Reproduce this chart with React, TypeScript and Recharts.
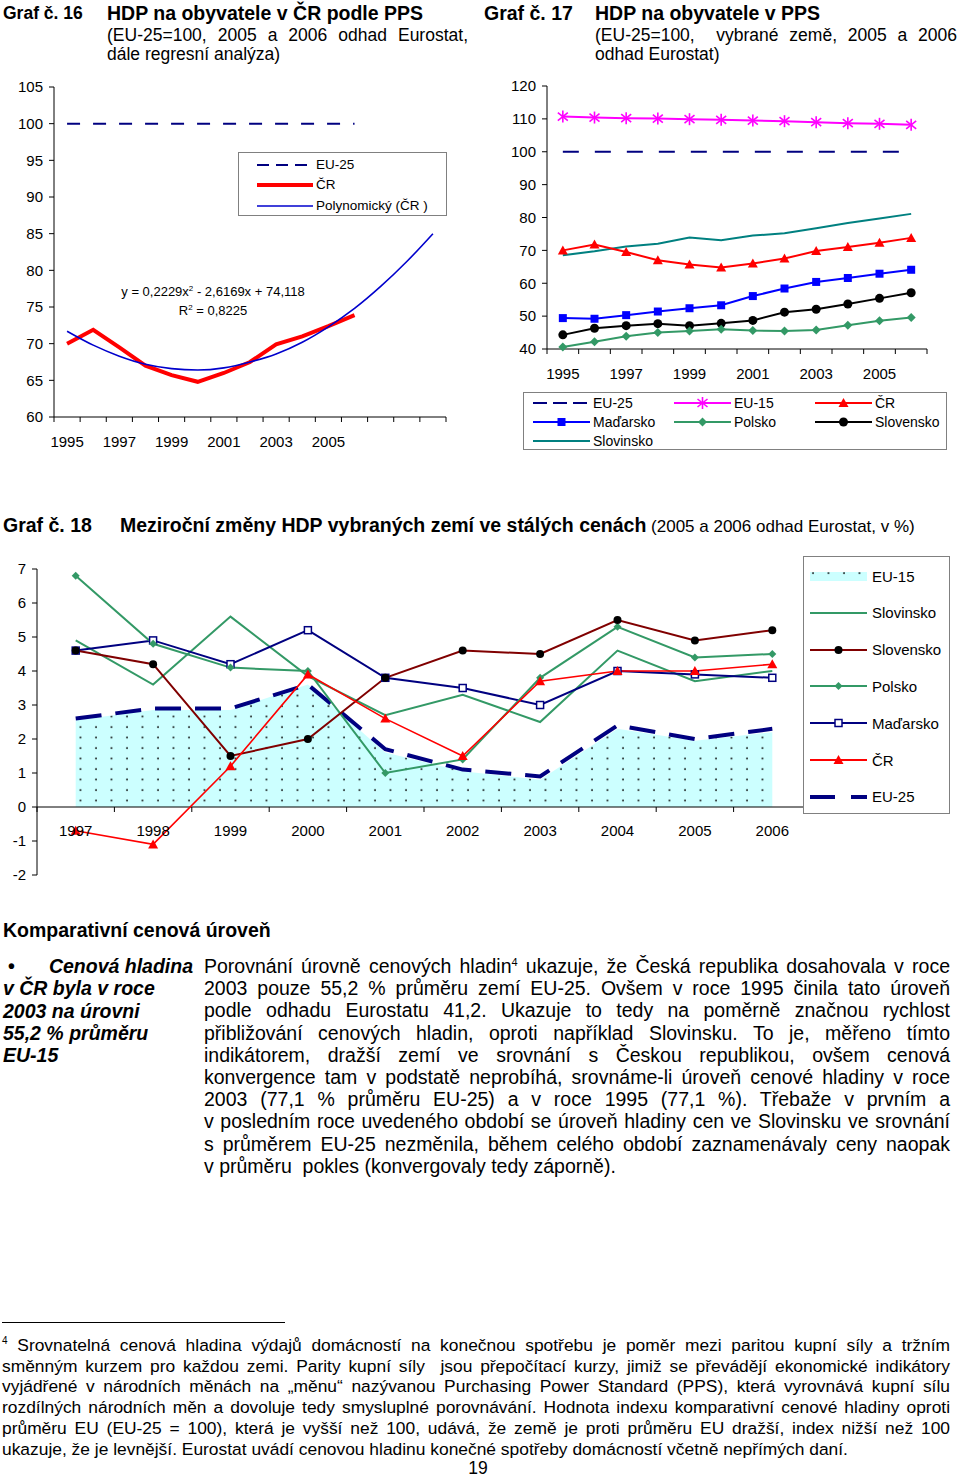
import React from "react";
import { LineChart, ComposedChart, Line, Area, XAxis, YAxis, ReferenceLine } from "recharts";

// Graf 16 - HDP na obyvatele CR (EU-25 = 100) + polynomicky trend
// (the last three categories only carry the trend forecast, so they get blank, distinct labels)
const years16 = ["1995", "1996", "1997", "1998", "1999", "2000", "2001", "2002", "2003", "2004", "2005", "2006", " ", "  ", "   "];
const eu25Hdp16 = [100, 100, 100, 100, 100, 100, 100, 100, 100, 100, 100, 100];
const crHdp16 = [70.0, 71.9, 69.5, 67.0, 65.7, 64.8, 66.0, 67.5, 69.9, 71.0, 72.4, 73.9];
const crTrend16 = [71.7, 69.8, 68.3, 67.2, 66.6, 66.4, 66.7, 67.5, 68.6, 70.2, 72.3, 74.8, 77.8, 81.2, 85.0];
const yTicks16 = [60, 65, 70, 75, 80, 85, 90, 95, 100, 105];

// Graf 17 - HDP na obyvatele v PPS, vybrane zeme
const years17 = ["1995", "1996", "1997", "1998", "1999", "2000", "2001", "2002", "2003", "2004", "2005", "2006"];
const eu25Hdp17 = [100, 100, 100, 100, 100, 100, 100, 100, 100, 100, 100, 100];
const eu15Hdp17 = [110.7, 110.4, 110.2, 110.1, 109.9, 109.7, 109.5, 109.3, 109.0, 108.7, 108.5, 108.2];
const crHdp17 = [70.0, 71.8, 69.5, 67.0, 65.7, 64.8, 66.0, 67.5, 69.8, 71.0, 72.3, 73.8];
const huHdp17 = [49.4, 49.2, 50.3, 51.4, 52.4, 53.3, 56.1, 58.4, 60.4, 61.6, 62.9, 64.1];
const plHdp17 = [40.6, 42.2, 43.9, 45.0, 45.5, 46.0, 45.6, 45.5, 45.8, 47.2, 48.6, 49.6];
const skHdp17 = [44.3, 46.3, 47.1, 47.7, 47.1, 47.8, 48.7, 51.2, 52.1, 53.7, 55.4, 57.1];
const siHdp17 = [68.5, 69.7, 71.2, 72.0, 73.9, 73.1, 74.5, 75.2, 76.7, 78.3, 79.7, 81.1];
const yTicks17 = [40, 50, 60, 70, 80, 90, 100, 110, 120];

// Graf 18 - mezirocni zmeny HDP (v %)
const years18 = ["1997", "1998", "1999", "2000", "2001", "2002", "2003", "2004", "2005", "2006"];
const eu15Gdp18 = [2.55, 2.85, 2.85, 3.6, 1.6, 1.05, 0.8, 2.3, 1.95, 2.2];
const eu25Gdp18 = [2.6, 2.9, 2.9, 3.6, 1.7, 1.1, 0.9, 2.4, 2.0, 2.3];
const siGdp18 = [4.9, 3.6, 5.6, 3.85, 2.7, 3.3, 2.5, 4.6, 3.7, 4.0];
const skGdp18 = [4.6, 4.2, 1.5, 2.0, 3.8, 4.6, 4.5, 5.5, 4.9, 5.2];
const plGdp18 = [6.8, 4.8, 4.1, 4.0, 1.0, 1.4, 3.8, 5.3, 4.4, 4.5];
const huGdp18 = [4.6, 4.9, 4.2, 5.2, 3.8, 3.5, 3.0, 4.0, 3.9, 3.8];
const crGdp18 = [-0.7, -1.1, 1.2, 3.9, 2.6, 1.5, 3.7, 4.0, 4.0, 4.2];
const yTicks18 = [-2, -1, 0, 1, 2, 3, 4, 5, 6, 7];

const rows16 = years16.map((year, i) => ({
  year,
  eu25: eu25Hdp16[i] ?? null,
  cr: crHdp16[i] ?? null,
  trend: crTrend16[i],
}));
const rows17 = years17.map((year, i) => ({
  year,
  eu25: eu25Hdp17[i],
  eu15: eu15Hdp17[i],
  cr: crHdp17[i],
  hu: huHdp17[i],
  pl: plHdp17[i],
  sk: skHdp17[i],
  si: siHdp17[i],
}));
const rows18 = years18.map((year, i) => ({
  year,
  eu15: eu15Gdp18[i],
  eu25: eu25Gdp18[i],
  si: siGdp18[i],
  sk: skGdp18[i],
  pl: plGdp18[i],
  hu: huGdp18[i],
  cr: crGdp18[i],
}));

const FONT = '"Liberation Sans", Arial, Helvetica, sans-serif';
const NAVY = "#000080";
const RED = "#FF0000";
const GREEN = "#339966";

// chart boxes (width, height, margins, y-axis width)
const C16 = { w: 460, h: 390, top: 17, right: 14, bottom: 13, yw: 54 };
const C17 = { w: 470, h: 320, top: 16, right: 23, bottom: 11, yw: 67 };
const C18 = { w: 815, h: 335, top: 14, right: 4, bottom: 0, yw: 37 };
const band = (c: typeof C16, n: number) => (c.w - c.yw - c.right) / n;

// marker shapes
const star = (cx: number, cy: number, c: string) => (
  <g stroke={c} strokeWidth={1.6}>
    <line x1={cx - 5} y1={cy - 4} x2={cx + 5} y2={cy + 4} />
    <line x1={cx - 5} y1={cy + 4} x2={cx + 5} y2={cy - 4} />
    <line x1={cx} y1={cy - 6} x2={cx} y2={cy + 6} />
  </g>
);
const triangle = (cx: number, cy: number, c: string, s = 5) => (
  <polygon points={`${cx},${cy - s} ${cx + s},${cy + s * 0.8} ${cx - s},${cy + s * 0.8}`} fill={c} />
);
const square = (cx: number, cy: number, c: string, s = 4) => (
  <rect x={cx - s} y={cy - s} width={2 * s} height={2 * s} fill={c} />
);
const hollowSquare = (cx: number, cy: number, c: string) => (
  <rect x={cx - 3.5} y={cy - 3.5} width={7} height={7} fill="#fff" stroke={c} strokeWidth={1.5} />
);
const diamond = (cx: number, cy: number, c: string, s = 4.5) => (
  <polygon points={`${cx},${cy - s} ${cx + s},${cy} ${cx},${cy + s} ${cx - s},${cy}`} fill={c} />
);
const circle = (cx: number, cy: number, c: string, r = 4.5) => <circle cx={cx} cy={cy} r={r} fill={c} />;

const dotOf = (shape: (cx: number, cy: number, c: string) => React.ReactElement, c: string) => (p: any) =>
  <g key={`d-${p.index}`}>{p.cx == null || p.cy == null ? null : shape(p.cx, p.cy, c)}</g>;

// category tick: label at the band centre, tick marks on the band edges (Excel style)
const CatTick = ({ x, y, payload, index, visibleTicksCount, bw, every = 1, shift = 0, labelDy = 24 }: any) => {
  const ay = y - shift;
  const last = index === visibleTicksCount - 1;
  return (
    <g>
      <line x1={x - bw / 2} x2={x - bw / 2} y1={ay} y2={ay + 5} stroke="#000" />
      {last ? <line x1={x + bw / 2} x2={x + bw / 2} y1={ay} y2={ay + 5} stroke="#000" /> : null}
      {index % every === 0 ? (
        <text x={x} y={ay + labelDy} textAnchor="middle" dominantBaseline="central" fontSize={15} fill="#000">
          {payload.value}
        </text>
      ) : null}
    </g>
  );
};

const Sample = ({ color, width = 2, dash, marker, w = 56 }: any) => (
  <svg width={w} height={14} style={{ display: "block" }}>
    <line x1={0} x2={w} y1={7} y2={7} stroke={color} strokeWidth={width} strokeDasharray={dash} />
    {marker ? marker(w / 2, 7) : null}
  </svg>
);

const abs = (left: number, top: number, extra: React.CSSProperties = {}): React.CSSProperties => ({
  position: "absolute",
  left,
  top,
  ...extra,
});

const JLine = ({ left, top, width, size, lh, last, children, style }: any) => (
  <div
    style={abs(left, top, {
      width,
      fontSize: size,
      lineHeight: `${lh}px`,
      textAlign: last ? "left" : "justify",
      textAlignLast: last ? "left" : "justify",
      whiteSpace: "pre-wrap",
      ...style,
    })}
  >
    {children}
  </div>
);

const bodyLines = [
  "2003 pouze 55,2 % průměru zemí EU-25. Ovšem v roce 1995 činila tato úroveň",
  "podle odhadu Eurostatu 41,2. Ukazuje to tedy na poměrně značnou rychlost",
  "přibližování cenových hladin, oproti například Slovinsku. To je, měřeno tímto",
  "indikátorem, dražší zemí ve srovnání s Českou republikou, ovšem cenová",
  "konvergence tam v podstatě neprobíhá, srovnáme-li úroveň cenové hladiny v roce",
  "2003 (77,1 % průměru EU-25) a v roce 1995 (77,1 %). Třebaže v prvním a",
  "v posledním roce uvedeného období se úroveň hladiny cen ve Slovinsku ve srovnání",
  "s průměrem EU-25 nezměnila, během celého období zaznamenávaly ceny naopak",
  "v průměru  pokles (konvergovaly tedy záporně).",
];

const noteLines = [
  "směnným kurzem pro každou zemi. Parity kupní síly  jsou přepočítací kurzy, jimiž se převádějí ekonomické indikátory",
  "vyjádřené v národních měnách na „měnu“ nazývanou Purchasing Power Standard (PPS), která vyrovnává kupní sílu",
  "rozdílných národních měn a dovoluje tedy smysluplné porovnávání. Hodnota indexu komparativní cenové hladiny oproti",
  "průměru EU (EU-25 = 100), která je vyšší než 100, udává, že země je proti průměru EU dražší, index nižší než 100",
  "ukazuje, že je levnější. Eurostat uvádí cenovou hladinu konečné spotřeby domácností včetně nepřímých daní.",
];

const axisText = { fontSize: 15, fill: "#000" };

export default function App() {
  return (
    <div style={{ position: "absolute", left: 0, top: 0, width: 960, height: 1478, fontFamily: FONT, color: "#000", background: "#fff" }}>
      {/* headings 16 / 17 */}
      <div style={abs(3, 2, { fontSize: 17.5, fontWeight: "bold", lineHeight: "22px" })}>Graf č. 16</div>
      <div style={abs(107, 2, { fontSize: 19.5, fontWeight: "bold", lineHeight: "22px" })}>HDP na obyvatele v ČR podle PPS</div>
      <JLine left={107} top={25} width={361} size={17.5} lh={20}>(EU-25=100, 2005 a 2006 odhad Eurostat,</JLine>
      <JLine left={107} top={44} width={361} size={17.5} lh={20} last>dále regresní analýza)</JLine>

      <div style={abs(484, 2, { fontSize: 19.5, fontWeight: "bold", lineHeight: "22px" })}>Graf č. 17</div>
      <div style={abs(595, 2, { fontSize: 19.5, fontWeight: "bold", lineHeight: "22px" })}>HDP na obyvatele v PPS</div>
      <JLine left={595} top={25} width={362} size={17.5} lh={20}>(EU-25=100,  vybrané země, 2005 a 2006</JLine>
      <JLine left={595} top={44} width={362} size={17.5} lh={20} last>odhad Eurostat)</JLine>

      {/* Graf 16 */}
      <div style={abs(0, 70)}>
        <LineChart width={C16.w} height={C16.h} data={rows16} margin={{ top: C16.top, right: C16.right, bottom: C16.bottom, left: 0 }}>
          <XAxis
            dataKey="year"
            scale="band"
            height={30}
            interval={0}
            tickSize={0}
            tickMargin={0}
            axisLine={{ stroke: "#000" }}
            tickLine={false}
            tick={(p: any) => <CatTick key={`t-${p.index}`} {...p} bw={band(C16, years16.length)} every={2} labelDy={24} />}
          />
          <YAxis
            domain={[60, 105]}
            ticks={yTicks16}
            interval={0}
            width={C16.yw}
            tickSize={5}
            tickMargin={6}
            axisLine={{ stroke: "#000" }}
            tickLine={{ stroke: "#000" }}
            tick={axisText}
          />
          <Line dataKey="eu25" stroke={NAVY} strokeWidth={2} strokeDasharray="13 13" dot={false} isAnimationActive={false} />
          <Line dataKey="cr" stroke={RED} strokeWidth={4} dot={false} isAnimationActive={false} />
          <Line dataKey="trend" type="monotone" stroke="#0000CC" strokeWidth={1.6} dot={false} isAnimationActive={false} />
        </LineChart>
      </div>
      <div style={abs(115, 282, { width: 196, textAlign: "center", fontSize: 13, lineHeight: "19px" })}>
        y = 0,2229x<sup style={{ fontSize: 8, lineHeight: 0 }}>2</sup> - 2,6169x + 74,118
        <br />
        R<sup style={{ fontSize: 8, lineHeight: 0 }}>2</sup> = 0,8225
      </div>
      <div style={abs(238, 152, { width: 207, height: 62, border: "1px solid #808080", background: "#fff", fontSize: 13.5 })}>
        {[
          { label: "EU-25", color: NAVY, width: 2, dash: "12 7", top: 4 },
          { label: "ČR", color: RED, width: 4, top: 24 },
          { label: "Polynomický (ČR )", color: "#0000CC", width: 1.6, top: 45 },
        ].map((it) => (
          <div key={it.label} style={abs(18, it.top, { display: "flex", alignItems: "center", whiteSpace: "nowrap" })}>
            <Sample color={it.color} width={it.width} dash={it.dash} w={56} />
            <span style={{ marginLeft: 3 }}>{it.label}</span>
          </div>
        ))}
      </div>

      {/* Graf 17 */}
      <div style={abs(480, 70)}>
        <LineChart width={C17.w} height={C17.h} data={rows17} margin={{ top: C17.top, right: C17.right, bottom: C17.bottom, left: 0 }}>
          <XAxis
            dataKey="year"
            scale="band"
            height={30}
            interval={0}
            tickSize={0}
            tickMargin={0}
            axisLine={{ stroke: "#000" }}
            tickLine={false}
            tick={(p: any) => <CatTick key={`t-${p.index}`} {...p} bw={band(C17, years17.length)} every={2} labelDy={24} />}
          />
          <YAxis
            domain={[40, 120]}
            ticks={yTicks17}
            interval={0}
            width={C17.yw}
            tickSize={5}
            tickMargin={6}
            axisLine={{ stroke: "#000" }}
            tickLine={{ stroke: "#000" }}
            tick={axisText}
          />
          <Line dataKey="eu25" stroke={NAVY} strokeWidth={2} strokeDasharray="16 16" dot={false} isAnimationActive={false} />
          <Line dataKey="eu15" stroke="#FF00FF" strokeWidth={2} dot={dotOf(star, "#FF00FF")} isAnimationActive={false} />
          <Line dataKey="si" stroke="#008080" strokeWidth={2} dot={false} isAnimationActive={false} />
          <Line dataKey="cr" stroke={RED} strokeWidth={2} dot={dotOf(triangle, RED)} isAnimationActive={false} />
          <Line dataKey="hu" stroke="#0000FF" strokeWidth={2} dot={dotOf(square, "#0000FF")} isAnimationActive={false} />
          <Line dataKey="sk" stroke="#000" strokeWidth={2} dot={dotOf(circle, "#000")} isAnimationActive={false} />
          <Line dataKey="pl" stroke={GREEN} strokeWidth={2} dot={dotOf(diamond, GREEN)} isAnimationActive={false} />
        </LineChart>
      </div>
      <div style={abs(523, 392, { width: 422, height: 56, border: "1px solid #808080", background: "#fff", fontSize: 14 })}>
        {[
          { label: "EU-25", color: NAVY, dash: "14 6", col: 9, row: 0 },
          { label: "EU-15", color: "#FF00FF", m: star, col: 150, row: 0 },
          { label: "ČR", color: RED, m: triangle, col: 291, row: 0 },
          { label: "Maďarsko", color: "#0000FF", m: square, col: 9, row: 1 },
          { label: "Polsko", color: GREEN, m: diamond, col: 150, row: 1 },
          { label: "Slovensko", color: "#000", m: circle, col: 291, row: 1 },
          { label: "Slovinsko", color: "#008080", col: 9, row: 2 },
        ].map((it) => (
          <div key={it.label} style={abs(it.col, 2 + it.row * 19, { display: "flex", alignItems: "center", whiteSpace: "nowrap", height: 16 })}>
            <Sample color={it.color} width={2} dash={it.dash} marker={it.m ? (x: number, y: number) => it.m!(x, y, it.color) : null} w={57} />
            <span style={{ marginLeft: 3 }}>{it.label}</span>
          </div>
        ))}
      </div>

      {/* heading 18 */}
      <div style={abs(3, 514, { fontSize: 19.5, fontWeight: "bold", lineHeight: "22px" })}>Graf č. 18</div>
      <div style={abs(120, 514, { fontSize: 19.5, lineHeight: "22px", whiteSpace: "nowrap" })}>
        <b>Meziroční změny HDP vybraných zemí ve stálých cenách</b>
        <span style={{ fontSize: 17 }}> (2005 a 2006 odhad Eurostat, v %)</span>
      </div>

      {/* Graf 18 */}
      <div style={abs(0, 555)}>
        <ComposedChart width={C18.w} height={C18.h} data={rows18} margin={{ top: C18.top, right: C18.right, bottom: C18.bottom, left: 0 }}>
          <defs>
            <pattern id="dots18" width="15.5" height="10.5" patternUnits="userSpaceOnUse">
              <rect width="15.5" height="10.5" fill="#CCFFFF" />
              <circle cx="3" cy="4" r="0.9" fill="#000" />
            </pattern>
          </defs>
          <XAxis
            dataKey="year"
            scale="band"
            height={15}
            interval={0}
            tickSize={0}
            tickMargin={0}
            axisLine={false}
            tickLine={false}
            tick={(p: any) => (
              <CatTick key={`t-${p.index}`} {...p} bw={band(C18, years18.length)} every={1} shift={(C18.h - C18.top - 15) * (2 / 9)} labelDy={23} />
            )}
          />
          <YAxis
            domain={[-2, 7]}
            ticks={yTicks18}
            interval={0}
            width={C18.yw}
            tickSize={5}
            tickMargin={6}
            axisLine={{ stroke: "#000" }}
            tickLine={{ stroke: "#000" }}
            tick={axisText}
          />
          <ReferenceLine y={0} stroke="#000" />
          <Area dataKey="eu15" baseValue={0} fill="url(#dots18)" fillOpacity={1} stroke="none" isAnimationActive={false} />
          <Line dataKey="eu25" stroke={NAVY} strokeWidth={4} strokeDasharray="26 14" dot={false} isAnimationActive={false} />
          <Line dataKey="si" stroke={GREEN} strokeWidth={2} dot={false} isAnimationActive={false} />
          <Line dataKey="hu" stroke={NAVY} strokeWidth={2} dot={dotOf(hollowSquare, NAVY)} isAnimationActive={false} />
          <Line dataKey="pl" stroke={GREEN} strokeWidth={2} dot={dotOf((x, y, c) => diamond(x, y, c, 4), GREEN)} isAnimationActive={false} />
          <Line dataKey="sk" stroke="#800000" strokeWidth={2} dot={dotOf((x, y) => circle(x, y, "#000", 4), "#000")} isAnimationActive={false} />
          <Line dataKey="cr" stroke={RED} strokeWidth={1.6} dot={dotOf((x, y, c) => triangle(x, y, c, 5), RED)} isAnimationActive={false} />
        </ComposedChart>
      </div>
      <div style={abs(803, 556, { width: 145, height: 256, border: "1px solid #808080", background: "#fff", fontSize: 15 })}>
        {[
          { label: "EU-15", area: true },
          { label: "Slovinsko", color: GREEN },
          { label: "Slovensko", color: "#800000", m: (x: number, y: number) => circle(x, y, "#000", 4) },
          { label: "Polsko", color: GREEN, m: (x: number, y: number) => diamond(x, y, GREEN, 4) },
          { label: "Maďarsko", color: NAVY, m: (x: number, y: number) => hollowSquare(x, y, NAVY) },
          { label: "ČR", color: RED, m: (x: number, y: number) => triangle(x, y, RED, 5) },
          { label: "EU-25", color: NAVY, width: 4, dash: "25 16" },
        ].map((it, i) => (
          <div key={it.label} style={abs(6, 11 + i * 36.8, { display: "flex", alignItems: "center", whiteSpace: "nowrap", height: 16 })}>
            {it.area ? (
              <svg width={57} height={14} style={{ display: "block" }}>
                <rect x={0} y={3} width={57} height={9} fill="url(#dots18)" />
              </svg>
            ) : (
              <Sample color={it.color} width={it.width ?? 2} dash={it.dash} marker={it.m} w={57} />
            )}
            <span style={{ marginLeft: 5 }}>{it.label}</span>
          </div>
        ))}
      </div>

      {/* text */}
      <div style={abs(3, 918, { fontSize: 19.5, fontWeight: "bold", lineHeight: "24px" })}>Komparativní cenová úroveň</div>
      <div style={abs(3, 955, { width: 190, fontSize: 19.5, fontWeight: "bold", fontStyle: "italic", lineHeight: "22.3px" })}>
        <div style={{ display: "flex", justifyContent: "space-between" }}>
          <span style={{ fontStyle: "normal", marginLeft: 5 }}>•</span>
          <span>Cenová hladina</span>
        </div>
        <div>v ČR byla v roce</div>
        <div>2003 na úrovni</div>
        <div>55,2 % průměru</div>
        <div>EU-15</div>
      </div>
      <JLine left={204} top={955} width={746} size={19.5} lh={22.2}>
        Porovnání úrovně cenových hladin<sup style={{ fontSize: 11, lineHeight: 0 }}>4</sup> ukazuje, že Česká republika dosahovala v roce
      </JLine>
      {bodyLines.map((t, i) => (
        <JLine key={i} left={204} top={955 + (i + 1) * 22.2} width={746} size={19.5} lh={22.2} last={i === bodyLines.length - 1}>
          {t}
        </JLine>
      ))}

      {/* footnote */}
      <div style={abs(2, 1322, { width: 283, height: 1, background: "#000" })} />
      <JLine left={2} top={1335} width={948} size={17.4} lh={20.7}>
        <sup style={{ fontSize: 10, lineHeight: 0 }}>4</sup> Srovnatelná cenová hladina výdajů domácností na konečnou spotřebu je poměr mezi paritou kupní síly a tržním
      </JLine>
      {noteLines.map((t, i) => (
        <JLine key={i} left={2} top={1335 + (i + 1) * 20.7} width={948} size={17.4} lh={20.7} last={i === noteLines.length - 1}>
          {t}
        </JLine>
      ))}
      <div style={abs(0, 1457, { width: 956, textAlign: "center", fontSize: 17.5, lineHeight: "22px" })}>19</div>
    </div>
  );
}
